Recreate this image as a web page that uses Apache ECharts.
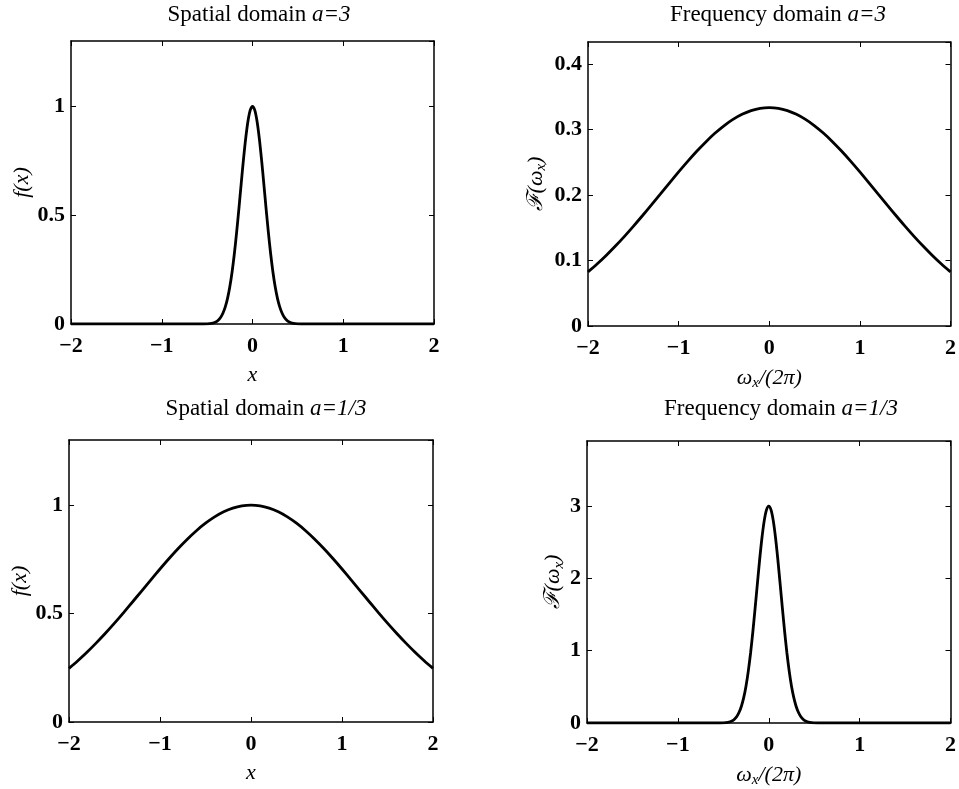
<!DOCTYPE html>
<html><head><meta charset="utf-8">
<script src="https://cdn.jsdelivr.net/npm/echarts@6/dist/echarts.min.js"></script>
<style>html,body{margin:0;padding:0;background:#fff}#c{width:959px;height:789px}</style>
</head><body><div id="c"></div>
<script>
// Broad curves sampled at 0.1 steps
var xWide = [-2,-1.9,-1.8,-1.7,-1.6,-1.5,-1.4,-1.3,-1.2,-1.1,-1,-0.9,-0.8,-0.7,-0.6,-0.5,-0.4,-0.3,-0.2,-0.1,0,
  0.1,0.2,0.3,0.4,0.5,0.6,0.7,0.8,0.9,1,1.1,1.2,1.3,1.4,1.5,1.6,1.7,1.8,1.9,2];
// Spatial domain a=1/3
var spatialThird = [0.2475,0.2836,0.3227,0.3647,0.4092,0.4559,0.5045,0.5544,0.6049,0.6555,0.7053,0.7537,0.7998,0.8428,0.8819,0.9164,0.9457,0.9691,0.9861,0.9965,1,
  0.9965,0.9861,0.9691,0.9457,0.9164,0.8819,0.8428,0.7998,0.7537,0.7053,0.6555,0.6049,0.5544,0.5045,0.4559,0.4092,0.3647,0.3227,0.2836,0.2475];
// Frequency domain a=3
var freqThree = [0.0825,0.0945,0.1076,0.1216,0.1364,0.1520,0.1682,0.1848,0.2016,0.2185,0.2351,0.2512,0.2666,0.2809,0.2940,0.3055,0.3152,0.3230,0.3287,0.3322,0.3333,
  0.3322,0.3287,0.3230,0.3152,0.3055,0.2940,0.2809,0.2666,0.2512,0.2351,0.2185,0.2016,0.1848,0.1682,0.1520,0.1364,0.1216,0.1076,0.0945,0.0825];
// Narrow curves
var xNarrow = [-2,-1.5,-1,-0.7,-0.6,-0.5,-0.45,-0.4,-0.375,-0.35,-0.325,-0.3,-0.275,-0.25,-0.225,-0.2,-0.175,-0.15,-0.125,-0.1,-0.075,-0.05,-0.025,0,
  0.025,0.05,0.075,0.1,0.125,0.15,0.175,0.2,0.225,0.25,0.275,0.3,0.325,0.35,0.375,0.4,0.45,0.5,0.6,0.7,1,1.5,2];
// Spatial domain a=3
var spatialThree = [0,0,0,0,0.00004,0.00085,0.0033,0.0108,0.0188,0.0313,0.0505,0.0785,0.1179,0.1708,0.2390,0.3227,0.4207,0.5293,0.6429,0.7537,0.8530,0.9318,0.9825,1,
  0.9825,0.9318,0.8530,0.7537,0.6429,0.5293,0.4207,0.3227,0.2390,0.1708,0.1179,0.0785,0.0505,0.0313,0.0188,0.0108,0.0033,0.00085,0.00004,0,0,0,0];
// Frequency domain a=1/3
var freqThird = [0,0,0,0,0.0001,0.0026,0.0098,0.0324,0.0564,0.0939,0.1515,0.2355,0.3537,0.5124,0.7170,0.9681,1.2621,1.5879,1.9287,2.2611,2.5590,2.7954,2.9475,3,
  2.9475,2.7954,2.5590,2.2611,1.9287,1.5879,1.2621,0.9681,0.7170,0.5124,0.3537,0.2355,0.1515,0.0939,0.0564,0.0324,0.0098,0.0026,0.0001,0,0,0,0];

var xTicks = [-2,-1,0,1,2];
var titles = ['Spatial domain {i|a=3}','Frequency domain {i|a=3}','Spatial domain {i|a=1/3}','Frequency domain {i|a=1/3}'];

var FONT = '"Liberation Serif","Times New Roman",serif';
var panels = [
  {grid:{left:71,top:41,width:363,height:283}, xs:xNarrow, ys:spatialThree, ymax:1.3, yint:0.5, ttl:[254,-2], xname:'{i|x}', yname:'{i|f(x)}', ygap:38},
  {grid:{left:588,top:42,width:366,height:284}, xs:xWide, ys:freqThree, ymax:1.3/3, yint:0.1, ttl:[773,-2], xname:'{i|ω}{s|x}{i|/(2π)}', yname:'{i|ℱ(ω}{s|x}{i|)}', ygap:39},
  {grid:{left:69,top:440,width:364,height:282}, xs:xWide, ys:spatialThird, ymax:1.3, yint:0.5, ttl:[261,392], xname:'{i|x}', yname:'{i|f(x)}', ygap:36},
  {grid:{left:587,top:441,width:366,height:282}, xs:xNarrow, ys:freqThird, ymax:3.9, yint:1, ttl:[776,392], xname:'{i|ω}{s|x}{i|/(2π)}', yname:'{i|ℱ(ω}{s|x}{i|)}', ygap:19}
];

var rich = {
  i:{fontFamily:FONT,fontStyle:'italic',fontSize:22,color:'#000'},
  s:{fontFamily:FONT,fontStyle:'italic',fontSize:15,color:'#000',padding:[10,0,0,0]}
};
var axisLine = {show:true,onZero:false,lineStyle:{color:'#000',width:1.5}};
var tick = {show:true,inside:true,length:5,lineStyle:{color:'#000',width:1}};
function fmt(v){ var s = String(Math.round(v*100)/100); return s.replace('-','\u2212'); }

var option = {animation:false, backgroundColor:'#fff', title:[], grid:[], xAxis:[], yAxis:[], series:[]};
panels.forEach(function(p,k){
  option.title.push({text:titles[k], left:p.ttl[0], top:p.ttl[1], textAlign:'center',
    textStyle:{fontFamily:FONT,fontWeight:'normal',fontSize:23,color:'#000',
      rich:{i:{fontFamily:FONT,fontStyle:'italic',fontSize:23,color:'#000'}}}});
  option.grid.push(p.grid);
  option.xAxis.push({type:'value',gridIndex:k,min:-2,max:2,interval:1,position:'bottom',
    axisLine:axisLine,axisTick:tick,splitLine:{show:false},
    axisLabel:{margin:11,fontFamily:FONT,fontWeight:'bold',fontSize:22,color:'#000',formatter:fmt},
    name:p.xname,nameLocation:'middle',nameGap:40,nameTextStyle:{rich:rich}});
  option.xAxis.push({type:'value',gridIndex:k,min:-2,max:2,interval:1,position:'top',
    axisLine:axisLine,axisTick:tick,splitLine:{show:false},axisLabel:{show:false}});
  option.yAxis.push({type:'value',gridIndex:k,min:0,max:p.ymax,interval:p.yint,position:'left',
    axisLine:axisLine,axisTick:tick,splitLine:{show:false},
    axisLabel:{showMaxLabel:false,margin:6,fontFamily:FONT,fontWeight:'bold',fontSize:22,color:'#000',formatter:fmt},
    name:p.yname,nameLocation:'middle',nameGap:p.ygap,nameRotate:90,nameTextStyle:{rich:rich}});
  option.yAxis.push({type:'value',gridIndex:k,min:0,max:p.ymax,interval:p.yint,position:'right',
    axisLine:axisLine,axisTick:tick,splitLine:{show:false},axisLabel:{show:false}});
  var d = p.xs.map(function(x,j){return [x,p.ys[j]];});
  option.series.push({type:'line',xAxisIndex:2*k,yAxisIndex:2*k,data:d,showSymbol:false,smooth:0.3,
    lineStyle:{color:'#000',width:2.8},clip:true});
});
var chart = echarts.init(document.getElementById('c'),null,{renderer:'canvas'});
chart.setOption(option);
</script></body></html>
